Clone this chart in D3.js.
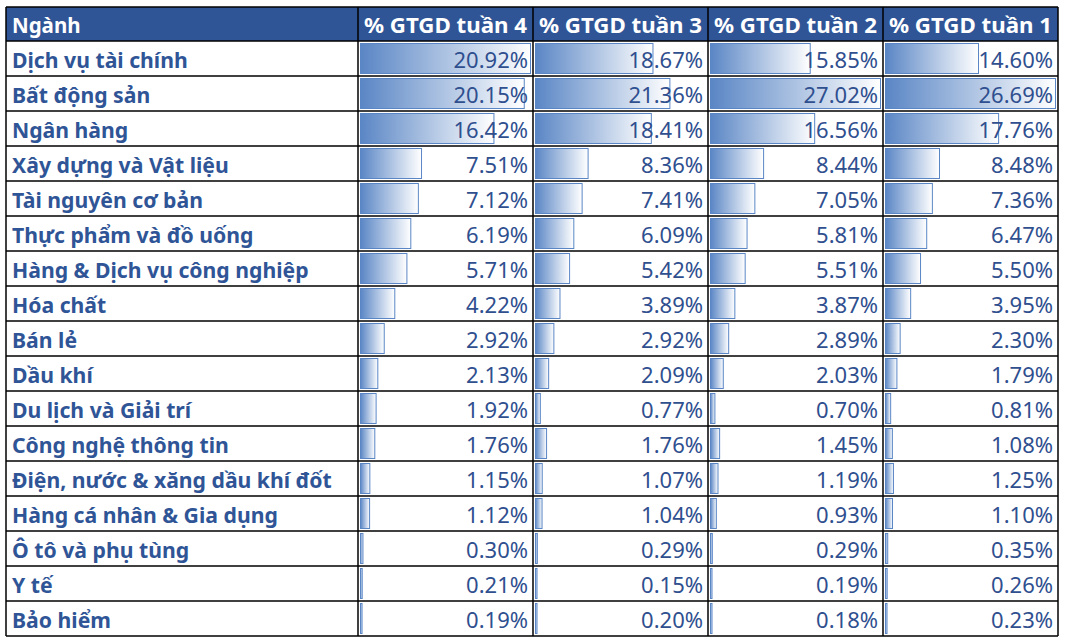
<!DOCTYPE html>
<html><head><meta charset="utf-8">
<script src="https://cdn.jsdelivr.net/npm/d3@7"></script>
<style>body{margin:0;background:#fff}svg{display:block}</style>
</head><body>
<script>
const categories = ["Dịch vụ tài chính","Bất động sản","Ngân hàng","Xây dựng và Vật liệu","Tài nguyên cơ bản","Thực phẩm và đồ uống","Hàng & Dịch vụ công nghiệp","Hóa chất","Bán lẻ","Dầu khí","Du lịch và Giải trí","Công nghệ thông tin","Điện, nước & xăng dầu khí đốt","Hàng cá nhân & Gia dụng","Ô tô và phụ tùng","Y tế","Bảo hiểm"];
const headers = ["Ngành","% GTGD tuần 4","% GTGD tuần 3","% GTGD tuần 2","% GTGD tuần 1"];
const week4 = [20.92,20.15,16.42,7.51,7.12,6.19,5.71,4.22,2.92,2.13,1.92,1.76,1.15,1.12,0.30,0.21,0.19];
const week3 = [18.67,21.36,18.41,8.36,7.41,6.09,5.42,3.89,2.92,2.09,0.77,1.76,1.07,1.04,0.29,0.15,0.20];
const week2 = [15.85,27.02,16.56,8.44,7.05,5.81,5.51,3.87,2.89,2.03,0.70,1.45,1.19,0.93,0.29,0.19,0.18];
const week1 = [14.60,26.69,17.76,8.48,7.36,6.47,5.50,3.95,2.30,1.79,0.81,1.08,1.25,1.10,0.35,0.26,0.23];
const series = [week4, week3, week2, week1];
// data-bar ranges as in the source sheet: col 1 alone, cols 2-3 together, col 4 alone
const barGroups = [[0],[1,2],[1,2],[3]];

const W = 1069, H = 643;
const tLeft = 6, tTop = 7, headH = 34, rowH = 35;
const colW = [352,175,175,175,175];
const colX = [tLeft]; colW.forEach((w,i)=>colX.push(colX[i]+w));
const tRight = colX[5];

const svg = d3.select("body").append("svg").attr("width",W).attr("height",H);
const defs = svg.append("defs");
const grad = defs.append("linearGradient").attr("id","bar").attr("x1","0").attr("x2","1").attr("y1","0").attr("y2","0");
grad.append("stop").attr("offset","0").attr("stop-color","#5A86C5");
grad.append("stop").attr("offset","1").attr("stop-color","#FFFFFF");

const y = d3.scaleBand().domain(d3.range(categories.length)).range([tTop+headH, tTop+headH+rowH*categories.length]);
const font = "'Noto Sans', 'Open Sans', sans-serif";

// header
svg.append("rect").attr("x",tLeft).attr("y",tTop).attr("width",tRight-tLeft).attr("height",headH).attr("fill","#2F5597");
svg.selectAll(".hd").data(headers).join("text")
  .attr("x",(d,i)=>colX[i]+6).attr("y",tTop+26)
  .attr("fill","#fff").attr("font-family",font).attr("font-weight","bold").attr("font-size",20.5)
  .attr("textLength",(d,i)=>i===0?null:163).attr("lengthAdjust","spacingAndGlyphs")
  .text(d=>d);

// category names
svg.selectAll(".cat").data(categories).join("text")
  .attr("x",tLeft+6).attr("y",(d,i)=>y(i)+26.5)
  .attr("fill","#2F5597").attr("font-family",font).attr("font-weight","bold").attr("font-size",21.2)
  .text(d=>d);

// data bars + values
series.forEach((vals,c)=>{
  const groupMax = d3.max(barGroups[c].flatMap(k=>series[k]));
  const x0 = colX[c+1]+2.5, x1 = colX[c+2]-2.5;
  const x = d3.scaleLinear().domain([0,groupMax]).range([x0,x1]);
  const g = svg.append("g");
  g.selectAll("rect").data(vals).join("rect")
    .attr("x",x0).attr("y",(d,i)=>y(i)+2.5)
    .attr("width",d=>Math.max(1.5,x(d)-x0)).attr("height",rowH-5)
    .attr("fill","url(#bar)").attr("stroke","#5A86C5").attr("stroke-width",1);
  g.selectAll("text").data(vals).join("text")
    .attr("x",colX[c+2]-5).attr("y",(d,i)=>y(i)+27)
    .attr("text-anchor","end").attr("fill","#2F4F8F").attr("font-family",font).attr("font-size",22)
    .text(d=>d3.format(".2f")(d)+"%");
});

// grid lines
const lines = svg.append("g").attr("stroke","#000").attr("stroke-width",1.5);
const hy = [tTop, tTop+headH].concat(d3.range(1,categories.length+1).map(i=>tTop+headH+rowH*i));
lines.selectAll(".h").data(hy).join("line").attr("x1",tLeft).attr("x2",tRight).attr("y1",d=>d).attr("y2",d=>d);
lines.selectAll(".v").data(colX).join("line").attr("x1",d=>d).attr("x2",d=>d).attr("y1",tTop).attr("y2",hy[hy.length-1]);
</script>
</body></html>
